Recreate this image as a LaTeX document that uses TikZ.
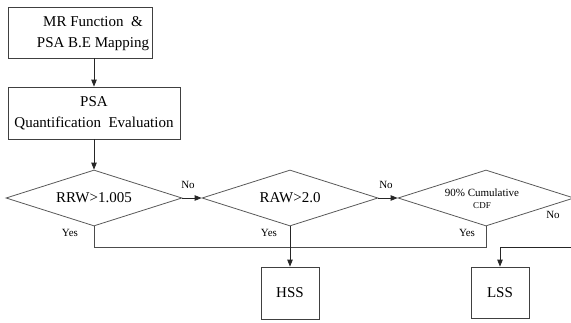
\documentclass[tikz,border=0pt]{standalone}
\usepackage{fontspec}
\setmainfont{Liberation Serif}
\newfontfamily\timesfont{Liberation Serif}
\usetikzlibrary{shapes.geometric,arrows.meta}

\tikzset{
  box/.style={draw=black!75, rectangle, inner sep=0pt, line width=0.8pt},
  test/.style={draw=black!65, diamond, aspect=3.14, inner sep=0pt,
    minimum width=176pt, minimum height=56pt, line width=0.8pt},
  ans/.style={inner sep=0pt, font=\timesfont\fontsize{11}{13}\selectfont},
  flow/.style={draw=black!85, line width=0.8pt, -{Triangle[length=7pt,width=5.5pt]}},
  wire/.style={draw=black!70, line width=0.8pt}
}

\begin{document}
\begin{tikzpicture}[x=1pt, y=-1pt, font=\timesfont\fontsize{15}{21}\selectfont]
  \clip (0,0) rectangle (571,322);

  % boxes on the left
  \node[box, minimum width=144pt, minimum height=51pt] (mr) at (80,32.5) {};
  \node[align=center, inner sep=0pt] (mrtext) at (93,34) {MR Function \ \&\\PSA B.E Mapping};
  \node[box, minimum width=172pt, minimum height=52pt, align=center] (psa) at (94,113) {PSA\\Quantification \ Evaluation};

  % decisions
  \node[test] (rrw) at (94,198) {RRW>1.005};
  \node[test] (raw) at (290,198) {RAW>2.0};
  \node[test] (cdf) at (486,198) {};
  \node[align=center, inner sep=0pt, font=\timesfont\fontsize{11}{12}\selectfont] (cdftext) at (482,199) {90\% Cumulative\\\fontsize{9}{10}\selectfont CDF};

  % results
  \node[box, minimum width=58pt, minimum height=52pt] (hss) at (290,293) {HSS};
  \node[box, minimum width=58pt, minimum height=51pt] (lss) at (500,292.5) {LSS};

  \node[ans] (no1) at (188,185) {No};
  \node[ans] (no2) at (386,185) {No};
  \node[ans] (no3) at (553,215) {No};
  \node[ans] (yes1) at (70,233) {Yes};
  \node[ans] (yes2) at (269,233) {Yes};
  \node[ans] (yes3) at (467,233) {Yes};

  \draw[flow] (mr.south -| psa.north) -- (psa.north);
  \draw[flow] (psa) -- (rrw);
  \draw[flow] (rrw.east) -- (raw.west);
  \draw[flow] (raw.east) -- (cdf.west);
  \draw[wire] (rrw.south) -- ++(0,21) -| (cdf.south);
  \draw[flow] (raw.south) -- (hss.north);
  \draw[flow] (cdf.east) -- ++(0,49) -| (lss.north);
\end{tikzpicture}
\end{document}
